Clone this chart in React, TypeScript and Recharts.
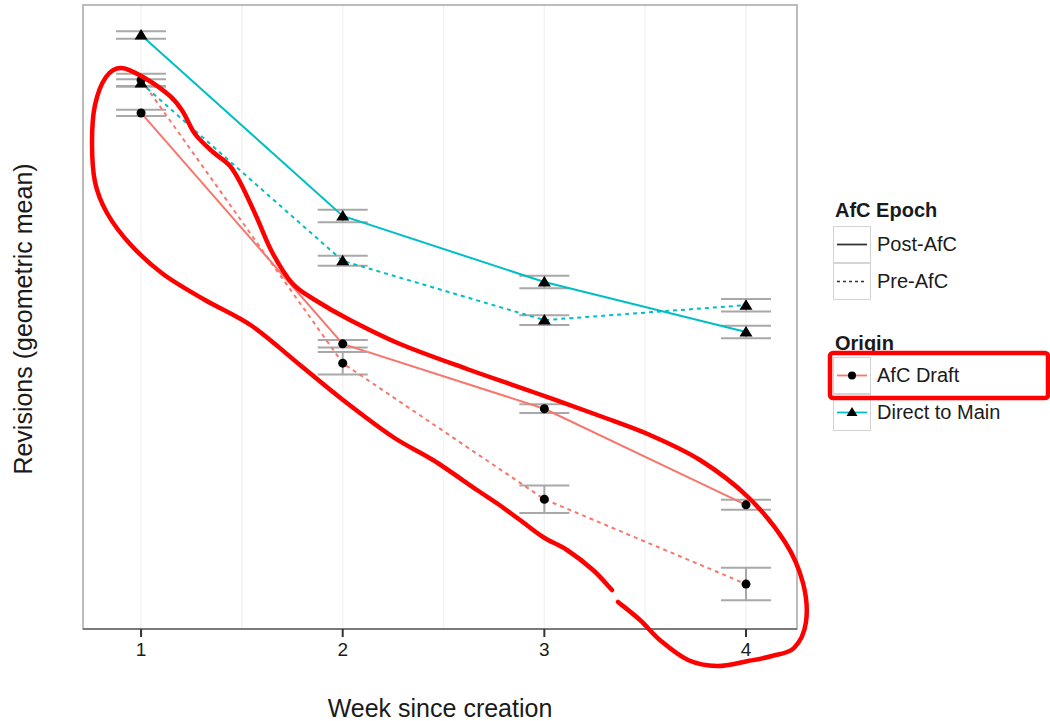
import React from "react";
import { ComposedChart, Line, XAxis, YAxis, ErrorBar, CartesianGrid, ReferenceArea, Legend } from "recharts";

const FONT = '"Liberation Sans", Arial, Helvetica, sans-serif';

// weeks since creation
const weeks = [1, 2, 3, 4];
const gridWeeks = [1, 1.5, 2, 2.5, 3, 3.5, 4];

// revisions (geometric mean)
const draftPost = [8.27, 4.57, 3.53, 1.99];
const draftPostErr = [0.05, 0.06, 0.07, 0.08];
const draftPre = [8.8, 4.26, 2.08, 0.72];
const draftPreErr = [0.1, 0.18, 0.22, 0.26];
const directPost = [9.52, 6.62, 5.56, 4.76];
const directPostErr = [0.06, 0.1, 0.1, 0.1];
const directPre = [8.75, 5.9, 4.95, 5.19];
const directPreErr = [0.06, 0.08, 0.08, 0.1];

const epochLabels = ["Post-AfC", "Pre-AfC"];
const originLabels = ["AfC Draft", "Direct to Main"];

const X_DOMAIN: [number, number] = [0.712, 4.253];
const Y_DOMAIN: [number, number] = [0, 10];

const SALMON = "#F8766D";
const CYAN = "#00BFC4";

const data = weeks.map((w, i) => ({
  week: w,
  draftPost: draftPost[i],
  draftPostErr: draftPostErr[i],
  draftPre: draftPre[i],
  draftPreErr: draftPreErr[i],
  directPost: directPost[i],
  directPostErr: directPostErr[i],
  directPre: directPre[i],
  directPreErr: directPreErr[i],
}));

// hand-drawn red loop (page pixels), with a small break near the bottom
const loopPts: [number, number][] = [
  [612, 590], [593, 570], [567, 550], [543, 537], [520, 520], [498, 504], [477, 490],
  [433, 460], [393, 437], [343, 400], [300, 365], [252, 326], [205, 300], [163, 274],
  [130, 244], [107, 213], [95, 182], [92, 142], [95, 105], [106, 77], [121, 68],
  [143, 77], [170, 96], [183, 112], [195, 134], [213, 152], [230, 166], [242, 186],
  [257, 218], [272, 252], [292, 283], [315, 300], [350, 320], [400, 344], [467, 369],
  [533, 392], [600, 416], [650, 435], [700, 460], [748, 497], [785, 542], [803, 583],
  [806, 622], [794, 648], [772, 656], [748, 661], [717, 666], [688, 660], [661, 641],
  [640, 620], [618, 602],
];

function smoothPath(pts: [number, number][]) {
  let d = `M${pts[0][0]},${pts[0][1]}`;
  for (let i = 0; i < pts.length - 1; i++) {
    const p0 = pts[i - 1] || pts[i];
    const p1 = pts[i];
    const p2 = pts[i + 1];
    const p3 = pts[i + 2] || p2;
    const c1x = p1[0] + (p2[0] - p0[0]) / 6;
    const c1y = p1[1] + (p2[1] - p0[1]) / 6;
    const c2x = p2[0] - (p3[0] - p1[0]) / 6;
    const c2y = p2[1] - (p3[1] - p1[1]) / 6;
    d += ` C${c1x},${c1y} ${c2x},${c2y} ${p2[0]},${p2[1]}`;
  }
  return d;
}

const TriangleDot = (props: any) => {
  const { cx, cy, key } = props;
  if (cx == null || cy == null) return <g key={key} />;
  return <path key={key} d={`M${cx},${cy - 6} L${cx + 6.5},${cy + 4.5} L${cx - 6.5},${cy + 4.5} Z`} fill="#000" />;
};

const circleDot = { r: 4.5, fill: "#000", stroke: "none", strokeDasharray: "" };

function KeyBox({ top, children, label }: { top: number; children: React.ReactNode; label: string }) {
  return (
    <div style={{ position: "absolute", left: 0, top, height: 37, display: "flex", alignItems: "center" }}>
      <div style={{ width: 36, height: 35, border: "1.5px solid #d4d4d4", background: "#fff" }}>
        <svg width={36} height={35}>{children}</svg>
      </div>
      <span style={{ marginLeft: 6, fontSize: 20, color: "#1a1a1a" }}>{label}</span>
    </div>
  );
}

const renderLegend = () => (
  <div style={{ position: "relative", width: 215, height: 240, fontFamily: FONT }}>
    <div style={{ position: "absolute", left: 2, top: 0, fontWeight: "bold", fontSize: 20, lineHeight: "24px", color: "#1a1a1a" }}>
      AfC Epoch
    </div>
    <KeyBox top={28} label={epochLabels[0]}>
      <line x1={3} x2={33} y1={17.5} y2={17.5} stroke="#333" strokeWidth={1.8} />
    </KeyBox>
    <KeyBox top={65} label={epochLabels[1]}>
      <line x1={3} x2={33} y1={17.5} y2={17.5} stroke="#333" strokeWidth={1.5} strokeDasharray="3 3" />
    </KeyBox>
    <div style={{ position: "absolute", left: 2, top: 133, fontWeight: "bold", fontSize: 20, lineHeight: "24px", color: "#1a1a1a" }}>
      Origin
    </div>
    <KeyBox top={159} label={originLabels[0]}>
      <line x1={3} x2={33} y1={17.5} y2={17.5} stroke={SALMON} strokeWidth={1.8} />
      <circle cx={18} cy={17.5} r={4} fill="#000" />
    </KeyBox>
    <KeyBox top={196} label={originLabels[1]}>
      <line x1={3} x2={33} y1={17.5} y2={17.5} stroke={CYAN} strokeWidth={1.8} />
      <path d="M18,12 L23.5,21 L12.5,21 Z" fill="#000" />
    </KeyBox>
  </div>
);

const ERR = { stroke: "#a8a8a8", strokeWidth: 2, width: 25 };

export default function App() {
  return (
    <div style={{ position: "absolute", left: 0, top: 0, width: 1050, height: 721, background: "#fff", fontFamily: FONT }}>
      <ComposedChart width={1050} height={721} data={data} margin={{ top: 5, right: 253, bottom: 62, left: 83 }}>
        <CartesianGrid horizontal={false} verticalValues={gridWeeks} stroke="#f3f3f3" strokeWidth={1.5} />
        <XAxis
          type="number"
          dataKey="week"
          domain={X_DOMAIN}
          ticks={weeks}
          interval={0}
          height={30}
          tickSize={8}
          tickMargin={6}
          axisLine={{ stroke: "#7a7a7a", strokeWidth: 2 }}
          tickLine={{ stroke: "#333", strokeWidth: 2 }}
          tick={{ fontSize: 19, fill: "#1a1a1a", fontFamily: FONT }}
          label={{ value: "Week since creation", position: "bottom", offset: 40, fontSize: 25, fill: "#1a1a1a", fontFamily: FONT }}
        />
        <YAxis type="number" domain={Y_DOMAIN} hide />
        <ReferenceArea x1={X_DOMAIN[0]} x2={X_DOMAIN[1]} y1={Y_DOMAIN[0]} y2={Y_DOMAIN[1]} fill="none" stroke="#a6a6a6" strokeWidth={1.5} ifOverflow="visible" />
        <Line type="linear" dataKey="draftPost" stroke={SALMON} strokeWidth={2} dot={circleDot} isAnimationActive={false}>
          <ErrorBar dataKey="draftPostErr" direction="y" {...ERR} />
        </Line>
        <Line type="linear" dataKey="draftPre" stroke={SALMON} strokeWidth={2} strokeDasharray="4 4" dot={circleDot} isAnimationActive={false}>
          <ErrorBar dataKey="draftPreErr" direction="y" {...ERR} />
        </Line>
        <Line type="linear" dataKey="directPost" stroke={CYAN} strokeWidth={2} dot={TriangleDot} isAnimationActive={false}>
          <ErrorBar dataKey="directPostErr" direction="y" {...ERR} />
        </Line>
        <Line type="linear" dataKey="directPre" stroke={CYAN} strokeWidth={2} strokeDasharray="4 4" dot={TriangleDot} isAnimationActive={false}>
          <ErrorBar dataKey="directPreErr" direction="y" {...ERR} />
        </Line>
        <Legend
          layout="vertical"
          align="center"
          verticalAlign="middle"
          content={renderLegend}
          wrapperStyle={{ left: 833, top: 198, width: 215, height: 240 }}
        />
      </ComposedChart>
      <svg width={1050} height={721} style={{ position: "absolute", left: 0, top: 0, pointerEvents: "none" }}>
        <text
          x={0}
          y={0}
          transform="translate(32,319) rotate(-90)"
          textAnchor="middle"
          fontSize={25}
          fill="#1a1a1a"
          fontFamily={FONT}
        >
          Revisions (geometric mean)
        </text>
        <path d={smoothPath(loopPts)} fill="none" stroke="#ff0000" strokeWidth={4.5} strokeLinecap="round" strokeLinejoin="round" />
        <rect x={830} y={353} width={218} height={45} rx={3} fill="none" stroke="#ff0000" strokeWidth={4.5} />
      </svg>
    </div>
  );
}
